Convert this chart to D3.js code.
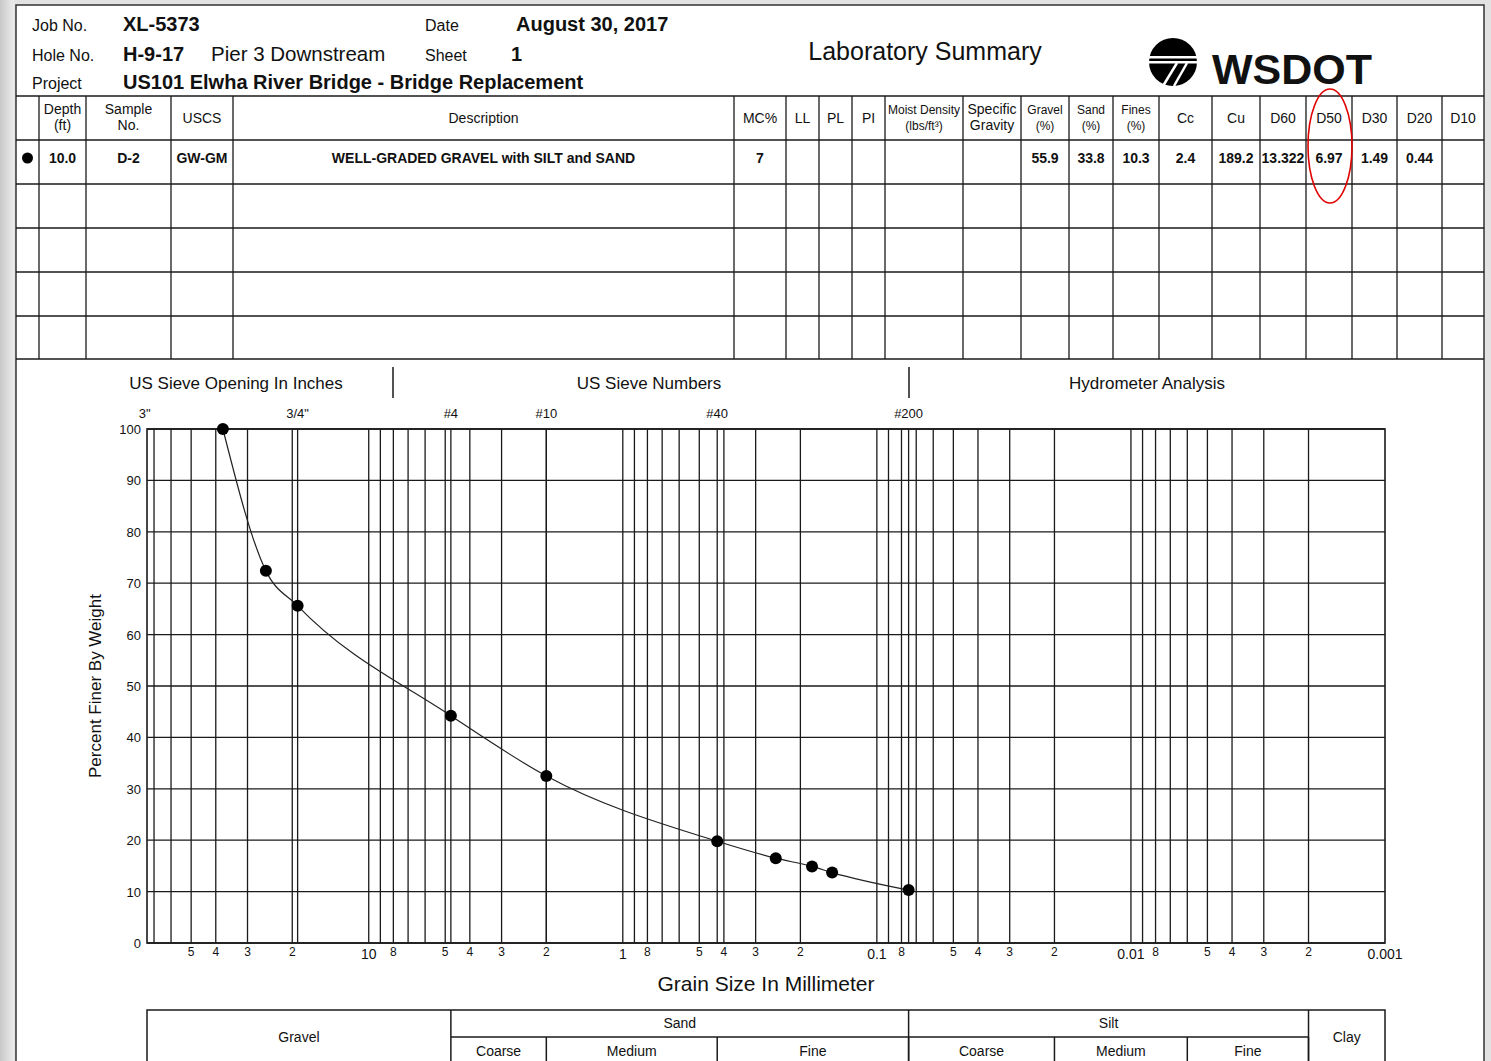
<!DOCTYPE html>
<html>
<head>
<meta charset="utf-8">
<script src="https://cdn.jsdelivr.net/npm/d3@7"></script>
<style>
  body { margin: 0; background: #fff; }
  svg { display: block; font-family: "Liberation Sans", Arial, sans-serif; }
</style>
</head>
<body>
<div id="chart"></div>
<script>
// grain size data (mm) and percent passing
const sieveSize = [37.5, 25.4, 19.05, 4.75, 2.0, 0.425, 0.25, 0.18, 0.15, 0.075];
const percentFiner = [100, 72.4, 65.6, 44.2, 32.5, 19.8, 16.5, 14.9, 13.7, 10.3];

// sieves marked along the top
const sieveLabels = ['3"', '3/4"', "#4", "#10", "#40", "#200"];
const sieveOpenings = [76.2, 19.05, 4.75, 2.0, 0.425, 0.075];

// bottom axis labels
const minorTicks = [50, 40, 30, 20, 8, 5, 4, 3, 2, 0.8, 0.5, 0.4, 0.3, 0.2, 0.08, 0.05, 0.04, 0.03, 0.02, 0.008, 0.005, 0.004, 0.003, 0.002];
const minorTickLabels = ["5", "4", "3", "2", "8", "5", "4", "3", "2", "8", "5", "4", "3", "2", "8", "5", "4", "3", "2", "8", "5", "4", "3", "2"];
const decadeTicks = [10, 1, 0.1, 0.01, 0.001];
const decadeTickLabels = ["10", "1", "0.1", "0.01", "0.001"];
const yTicks = [0, 10, 20, 30, 40, 50, 60, 70, 80, 90, 100];

// summary table
const tableHeaders = ["", "Depth|(ft)", "Sample|No.", "USCS", "Description", "MC%", "LL", "PL", "PI",
  "Moist Density|(lbs/ft³)", "Specific|Gravity", "Gravel|(%)", "Sand|(%)", "Fines|(%)", "Cc", "Cu",
  "D60", "D50", "D30", "D20", "D10"];
const sampleRow = ["●", "10.0", "D-2", "GW-GM", "WELL-GRADED GRAVEL with SILT and SAND", "7", "", "", "",
  "", "", "55.9", "33.8", "10.3", "2.4", "189.2", "13.322", "6.97", "1.49", "0.44", ""];
const colEdges = [16, 39, 86, 171, 233, 734, 786, 819, 852, 885, 963, 1021, 1069, 1113, 1159, 1212, 1260, 1306, 1352, 1397, 1442, 1484];

// soil classification bands (mm boundaries)
const classNames = ["Gravel", "Sand", "Silt", "Clay"];
const classBounds = [74.6, 4.75, 0.075, 0.002, 0.001];
const subNames = ["Coarse", "Medium", "Fine", "Coarse", "Medium", "Fine"];
const subBounds = [[4.75, 2.0], [2.0, 0.425], [0.425, 0.075], [0.075, 0.02], [0.02, 0.006], [0.006, 0.002]];

const W = 1491, H = 1061;
const ink = "#1a1a1a";

const svg = d3.select("#chart").append("svg")
    .attr("width", W)
    .attr("height", H);

// page shadow + sheet
const grad = svg.append("defs").append("linearGradient").attr("id", "shade");
grad.append("stop").attr("offset", "0%").attr("stop-color", "#c8c8c8");
grad.append("stop").attr("offset", "100%").attr("stop-color", "#ececec");
svg.append("rect").attr("width", W).attr("height", H).attr("fill", "#e2e2e2");
svg.append("rect").attr("width", 14).attr("height", H).attr("fill", "url(#shade)");
svg.append("rect").attr("x", 16).attr("y", 5).attr("width", 1468).attr("height", H)
    .attr("fill", "#fff").attr("stroke", "#333").attr("stroke-width", 1.5);

// ---------- title block ----------
function txt(x, y, s, size, weight, anchor) {
    return svg.append("text")
        .attr("x", x).attr("y", y)
        .attr("font-size", size)
        .attr("font-weight", weight || "normal")
        .attr("text-anchor", anchor || "start")
        .attr("fill", "#111")
        .text(s);
}
txt(32, 31, "Job No.", 16);
txt(123, 31, "XL-5373", 20, "bold");
txt(425, 31, "Date", 16);
txt(516, 31, "August 30, 2017", 20, "bold");
txt(32, 61, "Hole  No.", 16);
txt(123, 61, "H-9-17", 20, "bold");
txt(211, 61, "Pier 3 Downstream", 20.5);
txt(425, 61, "Sheet", 16);
txt(511, 61, "1", 20, "bold");
txt(32, 89, "Project", 16);
txt(123, 89, "US101 Elwha River Bridge - Bridge Replacement", 20, "bold");
txt(925, 60, "Laboratory Summary", 25, "normal", "middle");

// WSDOT logo
const logo = svg.append("g").attr("transform", "translate(1173,62)");
logo.append("circle").attr("r", 24).attr("fill", "#000");
logo.append("rect").attr("x", -24).attr("y", -6).attr("width", 48).attr("height", 2.5).attr("fill", "#fff");
logo.append("rect").attr("x", -24).attr("y", -1).attr("width", 48).attr("height", 2.5).attr("fill", "#fff");
logo.append("line").attr("x1", 4).attr("y1", 1).attr("x2", -10).attr("y2", 24).attr("stroke", "#fff").attr("stroke-width", 2.5);
logo.append("line").attr("x1", 14).attr("y1", 1).attr("x2", 1).attr("y2", 24).attr("stroke", "#fff").attr("stroke-width", 2.5);
txt(1212, 84, "WSDOT", 43, "bold");

// ---------- summary table ----------
const rowEdges = [96, 140, 184, 228, 272, 316, 359];
const table = svg.append("g").attr("stroke", ink).attr("stroke-width", 1.3);
rowEdges.forEach(y => table.append("line").attr("x1", 16).attr("x2", 1484).attr("y1", y).attr("y2", y));
colEdges.slice(1, -1).forEach(x => table.append("line").attr("x1", x).attr("x2", x).attr("y1", 96).attr("y2", 359));

tableHeaders.forEach((h, i) => {
    if (!h) return;
    const cx = (colEdges[i] + colEdges[i + 1]) / 2;
    const parts = h.split("|");
    const small = i === 11 || i === 12 || i === 13;
    const fs = i === 9 ? 12 : (small ? 12 : 14);
    if (parts.length === 1) {
        txt(cx, 123, parts[0], fs, "normal", "middle");
    } else {
        txt(cx, 114, parts[0], fs, "normal", "middle");
        txt(cx, 130, parts[1], fs, "normal", "middle");
    }
});
sampleRow.forEach((v, i) => {
    if (!v) return;
    const cx = (colEdges[i] + colEdges[i + 1]) / 2;
    if (i === 0) {
        svg.append("circle").attr("cx", cx).attr("cy", 158).attr("r", 5.5).attr("fill", "#000");
    } else {
        txt(cx, 163, v, 14, "bold", "middle");
    }
});

// red mark around D50
svg.append("ellipse").attr("cx", 1330).attr("cy", 146).attr("rx", 22).attr("ry", 57)
    .attr("fill", "none").attr("stroke", "#e00000").attr("stroke-width", 1.6);

// ---------- gradation chart ----------
const plot = { left: 147, right: 1385, top: 429, bottom: 943 };

const x = d3.scaleLog()
    .domain([74.6, 0.001])
    .range([plot.left, plot.right]);

const y = d3.scaleLinear()
    .domain([0, 100])
    .range([plot.bottom, plot.top]);

// section captions
txt(236, 389, "US Sieve Opening In Inches", 17, "normal", "middle");
txt(649, 389, "US Sieve Numbers", 17, "normal", "middle");
txt(1147, 389, "Hydrometer Analysis", 17, "normal", "middle");
[393, 909].forEach(d => svg.append("line").attr("x1", d).attr("x2", d).attr("y1", 367).attr("y2", 398)
    .attr("stroke", ink).attr("stroke-width", 1.5));

const grid = svg.append("g").attr("stroke", ink).attr("stroke-width", 1.3).attr("fill", "none");

// vertical grid: log ticks + sieve openings inside the frame
const [dMax, dMin] = x.domain();
const vLines = x.ticks().concat(sieveOpenings).filter(v => v < dMax && v > dMin);
grid.selectAll(".v").data(vLines).enter().append("line")
    .attr("x1", d => x(d)).attr("x2", d => x(d))
    .attr("y1", plot.top).attr("y2", plot.bottom);

// horizontal grid
grid.selectAll(".h").data(yTicks).enter().append("line")
    .attr("x1", plot.left).attr("x2", plot.right)
    .attr("y1", d => y(d)).attr("y2", d => y(d));

grid.append("rect")
    .attr("x", plot.left).attr("y", plot.top)
    .attr("width", plot.right - plot.left).attr("height", plot.bottom - plot.top)
    .attr("stroke-width", 1.6);

// y axis labels
svg.append("g").selectAll("text").data(yTicks).enter().append("text")
    .attr("x", plot.left - 6).attr("y", d => y(d) + 5)
    .attr("text-anchor", "end")
    .attr("font-size", 13)
    .attr("fill", "#111")
    .text(d => d);

svg.append("text")
    .attr("transform", "translate(101,686) rotate(-90)")
    .attr("text-anchor", "middle")
    .attr("font-size", 17)
    .attr("fill", "#111")
    .text("Percent Finer By Weight");

// sieve labels on top
svg.append("g").selectAll("text").data(sieveOpenings).enter().append("text")
    .attr("x", d => x(d)).attr("y", 418)
    .attr("text-anchor", "middle")
    .attr("font-size", 13)
    .attr("fill", "#111")
    .text((d, i) => sieveLabels[i]);

// bottom tick labels
svg.append("g").selectAll("text").data(minorTicks).enter().append("text")
    .attr("x", d => x(d)).attr("y", 956)
    .attr("text-anchor", "middle")
    .attr("font-size", 12)
    .attr("fill", "#111")
    .text((d, i) => minorTickLabels[i]);

svg.append("g").selectAll("text").data(decadeTicks).enter().append("text")
    .attr("x", d => x(d)).attr("y", 959)
    .attr("text-anchor", "middle")
    .attr("font-size", 14)
    .attr("fill", "#111")
    .text((d, i) => decadeTickLabels[i]);

txt(766, 991, "Grain Size In Millimeter", 21, "normal", "middle");

// gradation curve
const points = sieveSize.map((s, i) => [s, percentFiner[i]]);
const line = d3.line()
    .x(d => x(d[0]))
    .y(d => y(d[1]))
    .curve(d3.curveMonotoneX);

svg.append("path")
    .datum(points)
    .attr("d", line)
    .attr("fill", "none")
    .attr("stroke", "#222")
    .attr("stroke-width", 1.2);

svg.append("g").selectAll("circle").data(points).enter().append("circle")
    .attr("cx", d => x(d[0]))
    .attr("cy", d => y(d[1]))
    .attr("r", 6)
    .attr("fill", "#000");

// ---------- classification bar ----------
const bandTop = 1010, bandMid = 1037, bandBot = 1075;
const band = svg.append("g").attr("stroke", ink).attr("stroke-width", 1.5).attr("fill", "none");
band.append("rect").attr("x", plot.left).attr("y", bandTop)
    .attr("width", plot.right - plot.left).attr("height", bandBot - bandTop);
band.append("line").attr("x1", x(4.75)).attr("x2", x(0.002)).attr("y1", bandMid).attr("y2", bandMid);
classBounds.slice(1, -1).forEach(b => band.append("line")
    .attr("x1", x(b)).attr("x2", x(b)).attr("y1", bandTop).attr("y2", bandBot));
subBounds.forEach(s => band.append("line")
    .attr("x1", x(s[1])).attr("x2", x(s[1])).attr("y1", bandMid).attr("y2", bandBot));

classNames.forEach((n, i) => {
    const cx = (x(classBounds[i]) + x(classBounds[i + 1])) / 2;
    const twoRow = n === "Sand" || n === "Silt";
    txt(cx, twoRow ? 1028 : 1042, n, 14, "normal", "middle");
});
subNames.forEach((n, i) => {
    const cx = (x(subBounds[i][0]) + x(subBounds[i][1])) / 2;
    txt(cx, 1056, n, 14, "normal", "middle");
});
</script>
</body>
</html>
